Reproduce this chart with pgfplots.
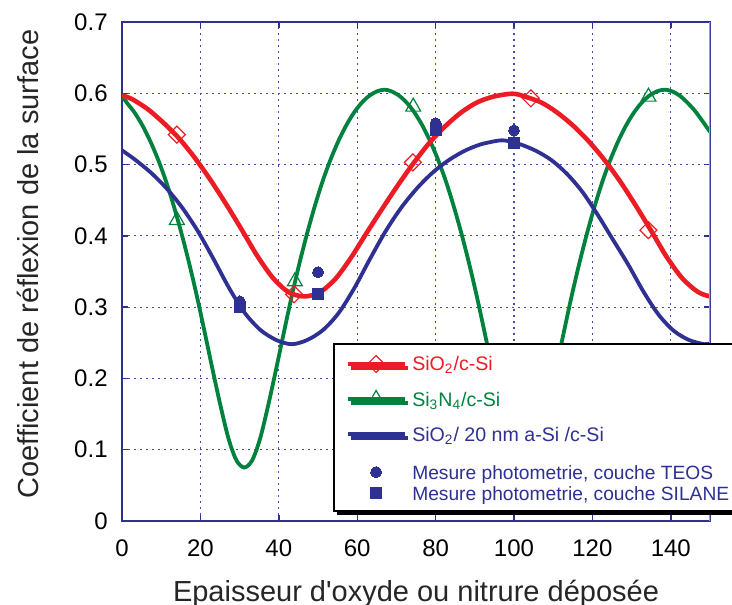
\documentclass[border=0pt]{standalone}
\usepackage{fontspec}
\setmainfont{Liberation Sans}[Ligatures=TeXOff]
\usepackage{pgfplots}
\pgfplotsset{compat=1.18}
\usetikzlibrary{shadows}
\definecolor{cred}{RGB}{237,28,36}
\definecolor{cgreen}{RGB}{0,130,62}
\definecolor{cblue}{RGB}{46,49,146}
\definecolor{cgrid}{RGB}{70,75,170}
\definecolor{clight}{RGB}{150,156,205}
\begin{document}
\begin{tikzpicture}
\begin{axis}[
  name=ax,
  scale only axis, width=294pt, height=249.5pt,
  xmin=0, xmax=150, ymin=0, ymax=0.7,
  xtick={0,20,40,60,80,100,120,140},
  ytick={0,0.1,0.2,0.3,0.4,0.5,0.6,0.7},
  grid=major,
  major grid style={cgrid, line width=0.6pt, dash pattern=on 0.8pt off 2.2pt},
  axis line style={cblue, line width=0.7pt},
  tick style={cblue, line width=0.7pt},
  tick align=inside, major tick length=3pt, tick pos=both,
  /pgf/number format/assume math mode=true,
  ticklabel style={font=\fontsize{12}{12}\selectfont, text=black},
  yticklabel style={anchor=east, inner sep=0pt, xshift=-7pt},
  xticklabel style={anchor=base, inner sep=0pt, yshift=-17.75pt},
  xlabel={Epaisseur d'oxyde ou nitrure déposée},
  ylabel={Coefficient de réflexion de la surface},
  label style={font=\fontsize{14.5}{14.5}\selectfont, text=black!85},
  xlabel style={at={(axis description cs:0.5,-0.161)}, anchor=base, inner sep=0pt},
  ylabel style={at={(axis description cs:-0.160,0.515)}, anchor=center, inner sep=0pt},
  legend style={at={(axis cs:53.8,0.2497)}, anchor=north west, draw=black, line width=1pt,
    fill=white, inner xsep=6pt, inner ysep=5.5pt, row sep=0pt, column sep=3pt,
    nodes={inner sep=0pt, text depth=0pt},
    cells={anchor=base west}, font=\fontsize{9.8}{9.8}\selectfont,
    drop shadow={shadow xshift=1.5pt, shadow yshift=-2pt, fill=black, opacity=1}},
  legend image code/.code={\draw[mark repeat=2, mark phase=2, yshift=3.5pt, #1] plot coordinates {(0pt,0pt) (14.25pt,0pt) (28.5pt,0pt)};},
]
% green curve (Si3N4/c-Si)
\addplot[cgreen, line width=1.9pt, smooth, forget plot] coordinates {
(0,0.597) (1.2,0.587) (3.2,0.573) (5.2,0.555) (7.2,0.533) (9.2,0.507) (11.2,0.477)
(13.2,0.442) (15.2,0.403) (17.2,0.360) (19.2,0.313) (21.2,0.262) (23.2,0.210) (25.2,0.160)
(27.2,0.115) (29.2,0.085) (31.2,0.075) (33.2,0.085) (35.2,0.115) (37.2,0.160) (39.2,0.210)
(41.2,0.262) (43.2,0.313) (45.2,0.360) (47.2,0.403) (49.2,0.442) (51.2,0.477) (53.2,0.507)
(55.2,0.533) (57.2,0.555) (59.2,0.573) (61.2,0.587) (63.2,0.597) (65.2,0.603) (67,0.605)
(68.6,0.603) (70.6,0.597) (72.6,0.587) (74.6,0.573) (76.6,0.555) (78.6,0.533) (80.6,0.507)
(82.6,0.477) (84.6,0.442) (86.6,0.403) (88.6,0.360) (90.6,0.313) (92.6,0.262) (94.6,0.210)
(96.6,0.160) (98.6,0.115) (100.6,0.085) (102.6,0.075) (104.6,0.085) (106.6,0.115)
(108.6,0.160) (110.6,0.210) (112.6,0.262) (114.6,0.313) (116.6,0.360) (118.6,0.403)
(120.6,0.442) (122.6,0.477) (124.6,0.507) (126.6,0.533) (128.6,0.555) (130.6,0.573)
(132.6,0.587) (134.6,0.597) (136.6,0.603) (138.4,0.605) (140.2,0.603) (142.2,0.597)
(144.2,0.587) (146.2,0.575) (148.2,0.560) (150,0.546)};
% blue curve (SiO2/20 nm a-Si/c-Si)
\addplot[cblue, line width=1.9pt, smooth, forget plot] coordinates {
(0,0.520) (3.3,0.507) (7.3,0.489) (11.3,0.467) (15.3,0.440) (19.3,0.407) (23.3,0.368)
(27.3,0.327) (31.3,0.292) (35.3,0.268) (39.3,0.254) (43.3,0.248) (47.3,0.254) (51.3,0.268)
(55.3,0.292) (59.3,0.327) (63.3,0.368) (67.3,0.407) (71.3,0.440) (75.3,0.467) (79.3,0.489)
(83.3,0.506) (87.3,0.519) (91.3,0.528) (95.3,0.533) (97,0.534) (98.5,0.533) (101.8,0.528)
(105.7,0.519) (109.6,0.506) (113.5,0.487) (117.4,0.462) (121.3,0.430) (125.2,0.395)
(129.1,0.360) (133,0.322) (136.8,0.290) (140.7,0.267) (144.6,0.254) (148.5,0.248) (150,0.249)};
% red curve (SiO2/c-Si)
\addplot[cred, line width=2.3pt, smooth, forget plot] coordinates {
(0,0.597) (2.5,0.592) (6.5,0.578) (10.5,0.559) (14.5,0.537) (18.5,0.510) (22.5,0.479)
(26.5,0.445) (30.5,0.409) (34.5,0.372) (38.5,0.341) (42.5,0.321) (46.5,0.315) (50.5,0.321)
(54.5,0.340) (58.5,0.370) (62.5,0.405) (66.5,0.439) (70.5,0.472) (74.5,0.503) (78.5,0.531)
(82.5,0.554) (86.5,0.573) (90.5,0.587) (94.5,0.595) (98.5,0.599) (100.5,0.599) (103,0.595)
(107,0.587) (111,0.573) (115,0.555) (119,0.533) (123,0.507) (127,0.477) (131,0.443)
(135,0.407) (139,0.370) (143,0.340) (147,0.321) (150,0.315)};
% markers on curves
\addplot[only marks, mark=triangle, mark size=4.3pt, mark options={cgreen, line width=0.6pt, fill=white}, forget plot]
 coordinates {(14,0.422) (44.1,0.336) (74.3,0.581) (134.3,0.595)};
\addplot[only marks, mark=square, mark size=3pt, mark options={cred, line width=0.6pt, rotate=45, fill=white}, forget plot]
 coordinates {(14,0.542) (43.9,0.318) (74.2,0.503) (104.3,0.593) (134.3,0.408)};
% measurements
\addplot[only marks, mark=*, mark size=2.75pt, mark options={cblue, fill=cblue, line width=0pt}, forget plot]
 coordinates {(30,0.308) (50,0.349) (80,0.558) (100,0.548)};
\addplot[only marks, mark=square*, mark size=2.75pt, mark options={cblue, fill=cblue, line width=0pt}, forget plot]
 coordinates {(30,0.300) (50,0.318) (80,0.548) (100,0.530)};
% legend
\addlegendimage{cred, line width=1.7pt, mark=square, mark size=3pt, mark options={cred, line width=0.6pt, rotate=45, fill=white}}
\addlegendentry{\textcolor{cred}{\rule{0pt}{8pt}SiO\textsubscript{2}/c-Si}}
\addlegendimage{cgreen, line width=1.7pt, mark=triangle, mark size=4.3pt, mark options={cgreen, line width=0.6pt, fill=white}}
\addlegendentry{\textcolor{cgreen}{\rule{0pt}{16.8pt}Si\textsubscript{3}N\textsubscript{4}/c-Si}}
\addlegendimage{cblue, line width=1.7pt}
\addlegendentry{\textcolor{cblue}{\rule{0pt}{17.5pt}SiO\textsubscript{2}/ 20 nm a-Si /c-Si}}
\addlegendimage{only marks, mark=*, mark size=2.75pt, mark options={cblue, fill=cblue, line width=0pt}}
\addlegendentry{\textcolor{cblue}{\fontsize{9.6}{9.6}\selectfont\rule{0pt}{19pt}Mesure photometrie, couche TEOS}}
\addlegendimage{only marks, mark=square*, mark size=2.75pt, mark options={cblue, fill=cblue, line width=0pt}}
\addlegendentry{\textcolor{cblue}{\fontsize{9.6}{9.6}\selectfont\rule{0pt}{10.5pt}Mesure photometrie, couche SILANE}}
\draw[clight, line width=1.2pt] (rel axis cs:1,0) -- (rel axis cs:1,1);
\end{axis}
\pgfresetboundingbox
\path ([shift={(-61pt,-42pt)}]ax.south west) rectangle ([shift={(11pt,11pt)}]ax.north east);
\end{tikzpicture}
\end{document}
